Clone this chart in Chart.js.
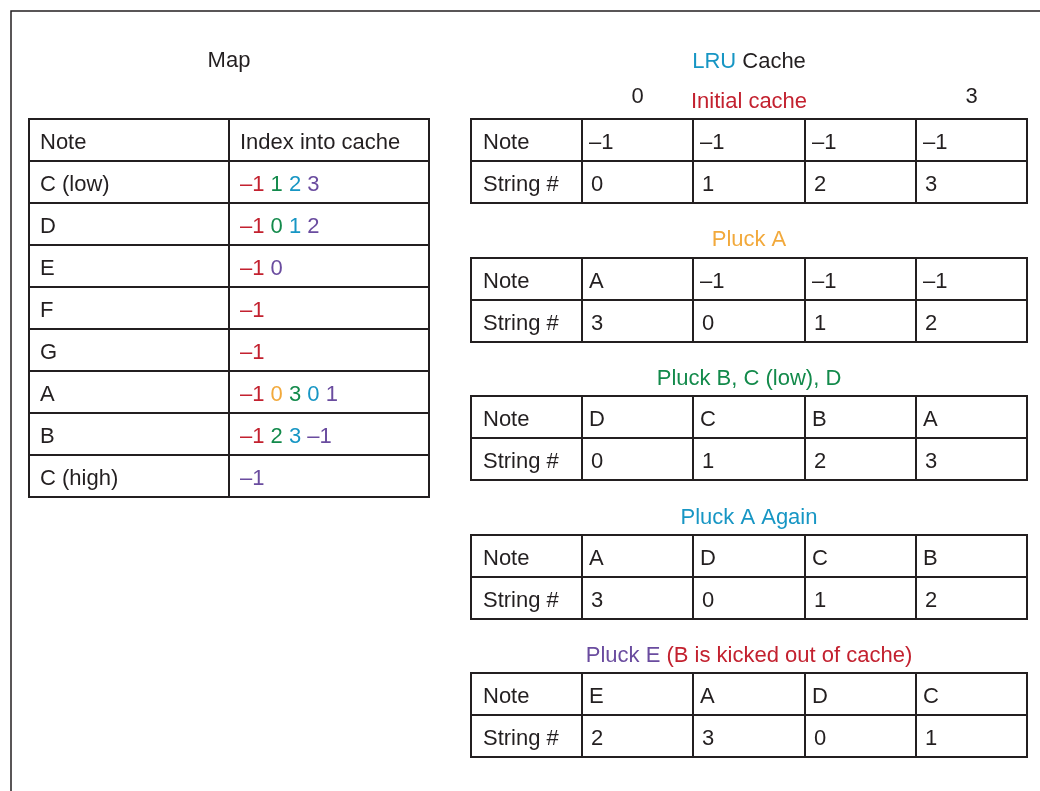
<!DOCTYPE html>
<html>
<head>
<meta charset="utf-8">
<script src="https://cdn.jsdelivr.net/npm/chart.js@4/dist/chart.umd.min.js"></script>
<style>
  html, body { margin: 0; padding: 0; background: #ffffff; }
  #wrap { width: 1040px; height: 791px; }
</style>
</head>
<body>
<div id="wrap"><canvas id="c" width="1040" height="791"></canvas></div>
<script>
// ---------------- DATA ----------------
const mapTitle = 'Map';
const mapHeader = ['Note', 'Index into cache'];
const mapNotes = ['C (low)', 'D', 'E', 'F', 'G', 'A', 'B', 'C (high)'];
// index into cache per stage (initial, pluck A, pluck B/C/D, pluck A again, pluck E); null = no entry
const mapIndexByStage = [
  [-1, null, 1, 2, 3],
  [-1, null, 0, 1, 2],
  [-1, null, null, null, 0],
  [-1, null, null, null, null],
  [-1, null, null, null, null],
  [-1, 0, 3, 0, 1],
  [-1, null, 2, 3, -1],
  [null, null, null, null, -1]
];
const cacheTitle = [['LRU', 'blue'], [' Cache', 'black']];
const slotLabels = ['0', null, null, '3'];
const rowLabels = ['Note', 'String #'];
const stageTitles = [
  [['Initial cache', 'red']],
  [['Pluck A', 'orange']],
  [['Pluck B, C (low), D', 'green']],
  [['Pluck A Again', 'blue']],
  [['Pluck E', 'purple'], [' (B is kicked out of cache)', 'red']]
];
const stageNotes = [
  [-1, -1, -1, -1],
  ['A', -1, -1, -1],
  ['D', 'C', 'B', 'A'],
  ['A', 'D', 'C', 'B'],
  ['E', 'A', 'D', 'C']
];
const stageStrings = [
  [0, 1, 2, 3],
  [3, 0, 1, 2],
  [0, 1, 2, 3],
  [3, 0, 1, 2],
  [2, 3, 0, 1]
];
const stageColorNames = ['red', 'orange', 'green', 'blue', 'purple'];

// ---------------- STYLE / LAYOUT ----------------
const palette = {
  black: '#231f20', red: '#c3212f', orange: '#f2a93b',
  green: '#138a4b', blue: '#1796c4', purple: '#6a4c9f'
};
const FONT = '22px "Liberation Sans", Arial, Helvetica, sans-serif';
const layout = {
  frame: { x: 11, y: 11 },
  mapTitleY: 61,
  mapX: [29, 229, 429], mapTop: 119,
  rowH: 42,
  cacheX: [471, 582, 693, 805, 916, 1027],
  cacheTitleY: 62, slotY: 97,
  stageTitleY: [102, 240, 379, 518, 656],
  stageTop: [119, 258, 396, 535, 673],
  padMap: 11, padCache: 12, padVal: 7, textDy: 3
};

function fmt(v) { return (typeof v === 'number' && v < 0) ? '\u2013' + Math.abs(v) : String(v); }

const tablePlugin = {
  id: 'tables',
  afterDraw(chart) {
    const ctx = chart.ctx;
    const xs = chart.scales.x, ys = chart.scales.y;
    const X = v => xs.getPixelForValue(v);
    const Y = v => ys.getPixelForValue(v);
    ctx.save();
    ctx.font = FONT;
    ctx.textBaseline = 'middle';

    function segs(list, x, y, align) {
      const parts = list.map(([t, c]) => ({ t, c, w: ctx.measureText(t).width }));
      const total = parts.reduce((s, p) => s + p.w, 0);
      let cx = align === 'center' ? x - total / 2 : x;
      ctx.textAlign = 'left';
      parts.forEach(p => { ctx.fillStyle = palette[p.c]; ctx.fillText(p.t, cx, y); cx += p.w; });
    }

    function grid(colsX, top, nRows) {
      ctx.strokeStyle = palette.black;
      ctx.lineWidth = 2;
      ctx.beginPath();
      for (let r = 0; r <= nRows; r++) {
        const yy = Math.round(Y(top + r * layout.rowH));
        ctx.moveTo(X(colsX[0]) - 1, yy); ctx.lineTo(X(colsX[colsX.length - 1]) + 1, yy);
      }
      colsX.forEach(cx => {
        const xx = Math.round(X(cx));
        ctx.moveTo(xx, Y(top)); ctx.lineTo(xx, Y(top + nRows * layout.rowH));
      });
      ctx.stroke();
    }

    // outer frame
    ctx.strokeStyle = palette.black;
    ctx.lineWidth = 1.5;
    ctx.beginPath();
    ctx.moveTo(X(layout.frame.x), Y(791));
    ctx.lineTo(X(layout.frame.x), Y(layout.frame.y));
    ctx.lineTo(X(1040), Y(layout.frame.y));
    ctx.stroke();

    // ---- Map table ----
    const mx = layout.mapX;
    segs([[mapTitle, 'black']], X((mx[0] + mx[2]) / 2), Y(layout.mapTitleY), 'center');
    grid(mx, layout.mapTop, mapNotes.length + 1);
    const rowMid = (top, r) => Y(top + r * layout.rowH + layout.rowH / 2 + layout.textDy);
    segs([[mapHeader[0], 'black']], X(mx[0] + layout.padMap), rowMid(layout.mapTop, 0));
    segs([[mapHeader[1], 'black']], X(mx[1] + layout.padMap), rowMid(layout.mapTop, 0));
    mapNotes.forEach((n, i) => {
      segs([[n, 'black']], X(mx[0] + layout.padMap), rowMid(layout.mapTop, i + 1));
      const parts = [];
      mapIndexByStage[i].forEach((v, s) => {
        if (v === null) return;
        if (parts.length) parts.push([' ', 'black']);
        parts.push([fmt(v), stageColorNames[s]]);
      });
      segs(parts, X(mx[1] + layout.padMap), rowMid(layout.mapTop, i + 1));
    });

    // ---- LRU cache tables ----
    const cx = layout.cacheX;
    const cMid = (cx[0] + cx[cx.length - 1]) / 2;
    segs(cacheTitle, X(cMid), Y(layout.cacheTitleY), 'center');
    slotLabels.forEach((s, i) => {
      if (s === null) return;
      segs([[s, 'black']], X((cx[i + 1] + cx[i + 2]) / 2), Y(layout.slotY), 'center');
    });
    stageTitles.forEach((title, k) => {
      const top = layout.stageTop[k];
      segs(title, X(cMid), Y(layout.stageTitleY[k]), 'center');
      grid(cx, top, 2);
      segs([[rowLabels[0], 'black']], X(cx[0] + layout.padCache), rowMid(top, 0));
      segs([[rowLabels[1], 'black']], X(cx[0] + layout.padCache), rowMid(top, 1));
      stageNotes[k].forEach((v, j) => {
        segs([[fmt(v), 'black']], X(cx[j + 1] + layout.padVal), rowMid(top, 0));
      });
      stageStrings[k].forEach((v, j) => {
        segs([[fmt(v), 'black']], X(cx[j + 1] + layout.padVal + 2), rowMid(top, 1));
      });
    });
    ctx.restore();
  }
};

new Chart(document.getElementById('c'), {
  type: 'scatter',
  data: { datasets: [{ data: [], pointRadius: 0 }] },
  options: {
    responsive: false,
    animation: false,
    devicePixelRatio: 1,
    layout: { padding: 0 },
    plugins: { legend: { display: false }, tooltip: { enabled: false }, title: { display: false } },
    scales: {
      x: { type: 'linear', min: 0, max: 1040, display: false },
      y: { type: 'linear', min: 0, max: 791, reverse: true, display: false }
    }
  },
  plugins: [tablePlugin]
});
</script>
</body>
</html>
